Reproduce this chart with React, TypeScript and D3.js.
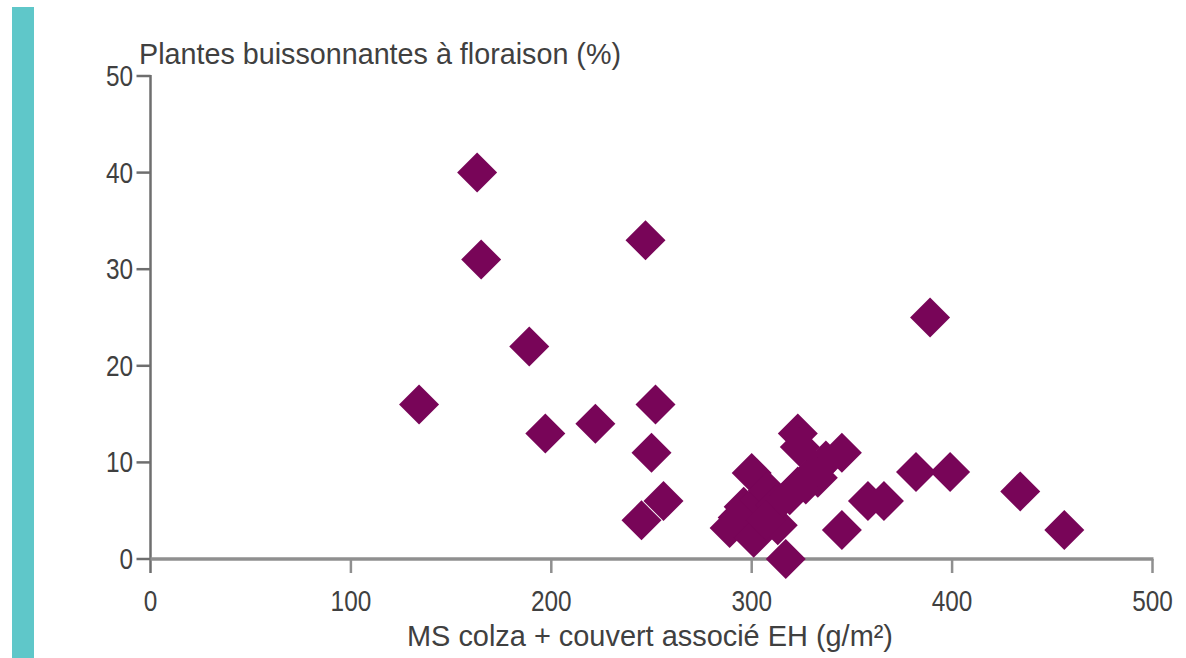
import React from 'react';
import * as d3 from 'd3';

const xValues = [163, 165, 247, 189, 134, 197, 222, 252, 250, 245, 256, 389, 382, 399, 434, 456, 345, 345, 358, 366,
  289, 293, 296, 300, 301, 304, 308, 313, 317, 312, 319, 323, 324, 327, 332, 337, 333, 307, 323];
const yValues = [40, 31, 33, 22, 16, 13, 14, 16, 11, 4, 6, 25, 9, 9, 7, 3, 11, 3, 6, 6,
  3.2, 4.3, 5.4, 8.9, 2.2, 6.1, 7.1, 3.5, 0, 5.6, 6.6, 13, 11.6, 7.7, 9.2, 10.2, 8.4, 4, 7.5];
const xTicks = [0, 100, 200, 300, 400, 500];
const yTicks = [0, 10, 20, 30, 40, 50];
const yTitle = 'Plantes buissonnantes à floraison (%)';
const xTitle = 'MS colza + couvert associé EH (g/m²)';

const FONT = "'Liberation Sans', Arial, sans-serif";

export default function App() {
  const W = 1186, H = 658;
  const x = d3.scaleLinear().domain([0, 500]).range([150.5, 1152.5]);
  const y = d3.scaleLinear().domain([0, 50]).range([559, 76]);
  const diamond = d3.symbol().type(d3.symbolSquare).size(800)() as string;
  const textColor = '#404040';
  const points = xValues.map((v, i) => ({ x: v, y: yValues[i] }));
  const sx = 0.84;
  return (
    <svg width={W} height={H} style={{ position: 'absolute', left: 0, top: 0, background: '#fff' }}>
      <rect x={12} y={7} width={22} height={H - 7} fill="#5fc7c9" />
      {/* y axis */}
      <line x1={x(0)} x2={x(0)} y1={y(50) - 1} y2={y(0) + 14} stroke="#6e6e6e" strokeWidth={2.5} />
      {yTicks.map(t => (
        <g key={'y' + t}>
          <line x1={x(0) - 14} x2={x(0)} y1={y(t)} y2={y(t)} stroke="#6e6e6e" strokeWidth={2.5} />
          <text transform={`translate(133,${y(t) + 10}) scale(${sx},1)`} textAnchor="end" fontFamily={FONT} fontSize={29} fill={textColor}>{t}</text>
        </g>
      ))}
      {/* x axis */}
      <line x1={x(0)} x2={x(500) + 1} y1={y(0)} y2={y(0)} stroke="#8f8f8f" strokeWidth={3.5} />
      {xTicks.map(t => (
        <g key={'x' + t}>
          {t > 0 && <line x1={x(t)} x2={x(t)} y1={y(0)} y2={y(0) + 14} stroke="#8f8f8f" strokeWidth={2.5} />}
          <text transform={`translate(${x(t)},611) scale(${sx},1)`} textAnchor="middle" fontFamily={FONT} fontSize={29} fill={textColor}>{t}</text>
        </g>
      ))}
      <text x={139} y={64} fontFamily={FONT} fontSize={30} fill={textColor} textLength={482} lengthAdjust="spacingAndGlyphs">{yTitle}</text>
      <text x={407} y={646} fontFamily={FONT} fontSize={30} fill={textColor} textLength={486} lengthAdjust="spacingAndGlyphs">{xTitle}</text>
      {points.map((p, i) => (
        <path key={i} d={diamond} transform={`translate(${x(p.x)},${y(p.y)}) rotate(45)`} fill="#780558" />
      ))}
    </svg>
  );
}
